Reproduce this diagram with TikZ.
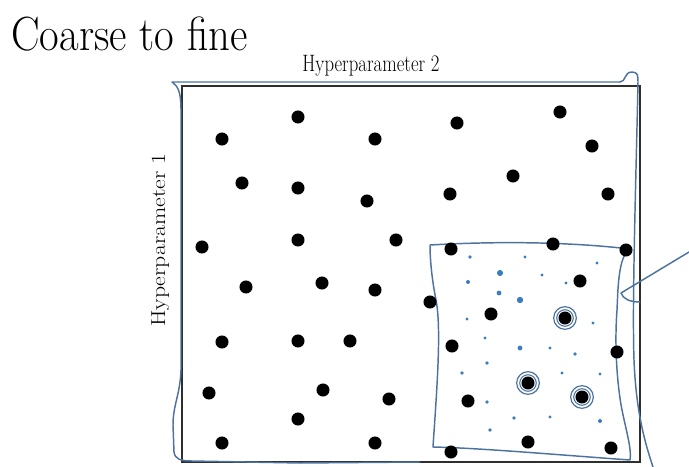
\documentclass[tikz,border=0pt]{standalone}
\usepackage{xcolor}
\usepackage{graphicx}
\usepackage{tikz}
\usetikzlibrary{calc}
\definecolor{inkBlue}{HTML}{4C73A0}
\definecolor{dotBlue}{HTML}{3C7DC0}
\definecolor{boxGray}{HTML}{2E2E2E}
\begin{document}
\begin{tikzpicture}[x=0.75pt,y=-0.75pt,
  pt/.style={circle,fill=black,inner sep=0pt,minimum size=9.8pt},
  sm/.style={fill=dotBlue,draw=none},
  ink/.style={draw=inkBlue,line width=1.1pt,line cap=round,line join=round},
  lbl/.style={inner sep=0pt,font=\fontsize{17.8}{20}\selectfont}]
  \useasboundingbox (0,0) rectangle (689,467);
  \node[anchor=base west,inner sep=0pt] (title) at (11,51) {\fontsize{36}{40}\selectfont\scalebox{0.89}[1]{Coarse to fine}};
  \node[lbl,anchor=base] (hp2) at (371,72) {\scalebox{0.79}[1]{Hyperparameter 2}};
  \node[lbl,anchor=base,rotate=90] (hp1) at (165,240) {\scalebox{1}[0.85]{Hyperparameter 1}};
  % grid of trials
  \draw[boxGray,line width=1.1pt] (182,86) rectangle (640,462);
  \draw[ink] (620,82) -- (330,82) -- (172,82) .. controls (178,86) and (181,92) .. (181,110)
    -- (181,370) .. controls (180,395) and (173,405) .. (173,425) -- (174,452)
    .. controls (175,459) and (180,461) .. (192,461) -- (300,463) -- (420,462);
  \draw[ink] (620,82) .. controls (626,82) and (624,72) .. (632,72)
    .. controls (638,72) and (638,76) .. (638,82)
    .. controls (636,180) and (632,300) .. (634,360)
    .. controls (636,410) and (644,440) .. (653,467);
  % zoomed region
  \draw[ink] (430,245) .. controls (500,241) and (570,242) .. (630,249)
    .. controls (618,256) and (618,290) .. (617,310)
    .. controls (614,350) and (618,390) .. (622,410)
    .. controls (626,430) and (632,450) .. (630,460)
    .. controls (560,455) and (480,448) .. (433,447)
    .. controls (436,400) and (442,330) .. (436,300)
    .. controls (432,280) and (430,260) .. (430,245);
  \coordinate (tip) at (621,293);
  \draw[ink] (689,252) -- (tip) .. controls (623,299) and (630,302) .. (640,302);
  \foreach \x/\y [count=\i] in {298/117,222/139,375/139,457/123,560/112,592/146,
      242/183,298/188,367/201,450/194,513/176,608/194,
      202/247,298/240,396/240,451/249,553/244,626/250,
      246/287,322/283,375/290,430/302,491/314,580/281,565/318,
      222/342,298/341,350/341,452/346,617/352,
      209/393,323/390,389/399,468/401,528/383,582/397,
      298/419,222/443,375/443,451/452,528/442,611/448}
    \node[pt] (p\i) at (\x,\y) {};
  \foreach \n in {25,35,36}{
    \draw[ink,line width=0.9pt] (p\n) circle (8.5pt);
    \draw[ink,line width=0.8pt] (p\n) circle (6.2pt); }
  \foreach \x/\y/\r in {470/257/1.4,525/257/1.2,597/263/1.3,500/273/2.3,468/282/1.5,
      542/275/1.2,566/283/1.3,499/293/1.8,520/300/2.4,467/319/1.2,593/323/1.3,
      485/338/1.3,520/348/1.8,550/348/1.2,575/354/1.4,487/363/1.4,462/373/1.4,
      562/373/1.3,600/374/1.3,487/402/1.4,514/418/1.4,550/417/1.2,600/421/1.5,490/430/1.4}
    \fill[sm] (\x,\y) circle (\r pt);
\end{tikzpicture}
\end{document}
